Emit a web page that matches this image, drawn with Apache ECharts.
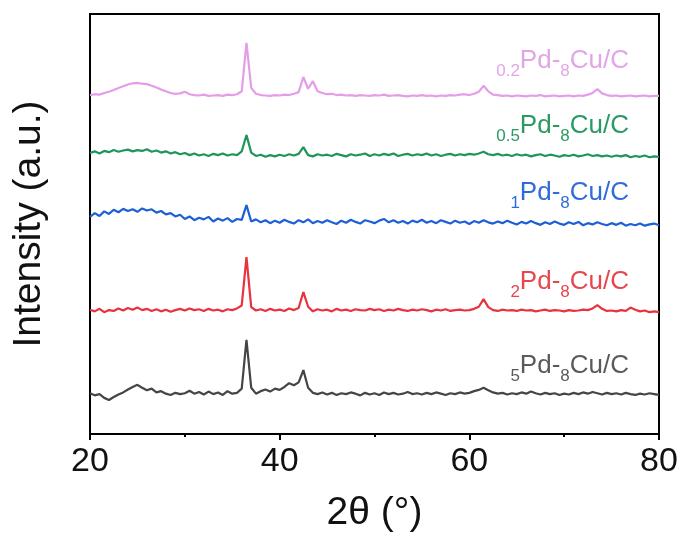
<!DOCTYPE html>
<html>
<head>
<meta charset="utf-8">
<script src="https://cdn.jsdelivr.net/npm/echarts@6/dist/echarts.min.js"></script>
<style>
  html, body { margin: 0; padding: 0; background: #fff; }
  #main { width: 683px; height: 538px; }
</style>
</head>
<body>
<div id="main"></div>
<script>
// 2θ from 20 to 80, step 0.5
const angles = [];
for (let i = 0; i <= 120; i++) angles.push(20 + i * 0.5);

const xTicks = [20, 40, 60, 80];

// stacked (offset) intensities
const pd02 = [
  80.7, 80.9, 80.8, 81.2, 81.5, 81.9, 82.4, 82.8, 83.2, 83.5,
  83.6, 83.4, 83.3, 82.9, 82.5, 82.0, 81.6, 81.2, 81.0, 81.1,
  81.5, 80.9, 80.7, 80.6, 80.8, 80.5, 80.6, 80.7, 80.5, 80.8,
  80.7, 80.9, 81.6, 93.1, 82.4, 81.0, 80.7, 80.6, 80.5, 80.7,
  80.6, 80.8, 80.7, 81.0, 81.4, 85.0, 82.2, 84.0, 81.6, 81.2,
  80.9, 81.0, 80.7, 80.8, 80.6, 80.7, 80.5, 80.7, 80.6, 80.5,
  80.7, 80.6, 80.8, 80.5, 80.6, 80.7, 80.5, 80.4, 80.6, 80.5,
  80.7, 80.5, 80.6, 80.4, 80.6, 80.5, 80.7, 80.6, 80.8, 80.9,
  80.7, 81.0, 81.5, 82.9, 81.6, 80.8, 80.7, 80.5, 80.6, 80.4,
  80.6, 80.5, 80.4, 80.6, 80.5, 80.7, 80.4, 80.5, 80.6, 80.4,
  80.5, 80.6, 80.4, 80.6, 80.5, 80.8, 81.2, 82.1, 81.1, 80.7,
  80.5, 80.6, 80.4, 80.5, 80.6, 80.4, 80.5, 80.6, 80.4, 80.5, 80.5
];
const pd05 = [
  66.9, 67.3, 66.8, 67.4, 67.1, 67.6, 67.2, 67.5, 67.7, 67.3,
  67.6, 67.4, 67.8, 67.2, 67.5, 67.0, 67.3, 66.8, 67.1, 66.6,
  66.9, 66.4, 66.8, 66.3, 66.6, 66.2, 66.7, 66.4, 66.8, 66.3,
  66.6, 66.4, 67.3, 71.2, 67.0, 66.2, 66.5, 66.0, 66.4, 66.1,
  66.5, 66.2, 66.6, 66.3, 66.7, 68.3, 66.4, 66.1, 66.6, 66.3,
  66.5, 66.2, 66.7, 66.4, 66.1, 66.6, 66.3, 66.5, 66.8, 66.2,
  66.6, 66.3, 66.7, 66.4, 66.8, 66.2, 66.5, 66.7, 66.3, 66.6,
  66.4, 66.8, 66.3, 66.6, 66.2, 66.5, 66.7, 66.3, 66.6, 66.4,
  66.7, 66.5, 66.8, 67.2, 66.6, 66.4, 66.7, 66.3, 66.5, 66.2,
  66.6, 66.3, 66.5, 66.1, 66.4, 66.6, 66.2, 66.5, 66.3, 66.0,
  66.4, 66.2, 66.5, 66.1, 66.3, 66.6, 66.2, 66.4, 66.1, 66.3,
  66.0, 66.3, 66.1, 66.4, 65.9, 66.2, 66.0, 66.3, 65.9, 66.1, 66.0
];
const pd1 = [
  51.7, 52.6, 51.9, 53.0, 52.4, 53.4, 52.8, 53.6, 53.1, 53.5,
  52.9, 53.7, 53.2, 53.5, 52.7, 53.1, 52.3, 52.6, 51.8, 52.2,
  51.2, 51.8, 50.9, 51.5, 51.1, 51.7, 50.6, 51.3, 50.8, 51.4,
  50.5, 51.2, 51.0, 54.5, 50.6, 51.1, 50.4, 50.9, 50.2, 50.8,
  50.3, 51.0, 50.5, 50.1, 50.9, 50.4, 51.1, 50.2, 50.7, 50.3,
  50.9, 50.4, 50.0, 50.8, 50.3, 51.0, 50.5, 50.1, 50.9, 50.6,
  50.2, 50.8, 51.2, 50.4, 50.9, 50.3, 50.7, 50.1, 50.8, 50.4,
  51.0, 50.3, 50.7, 50.2, 50.9, 50.5, 50.1, 50.8, 50.3, 50.6,
  50.0, 50.7, 50.3, 50.9, 50.4, 50.1, 50.6, 50.2, 50.8, 50.3,
  49.9, 50.5, 50.1, 50.7, 50.2, 49.8, 50.4, 50.0, 50.6, 50.1,
  49.8, 50.4, 50.0, 50.5, 49.7, 50.2, 49.9, 50.4, 50.0, 49.7,
  50.2, 49.8, 50.3, 49.6, 50.0, 49.7, 50.1, 49.6, 49.9, 50.1, 49.7
];
const pd2 = [
  29.6, 29.2, 29.8, 29.0, 29.5, 29.3, 29.9, 29.4, 30.0, 29.6,
  30.1, 29.5, 29.8, 29.3, 29.7, 29.2, 29.6, 29.1, 29.5, 29.8,
  29.4, 29.9, 29.5, 29.7, 29.3, 29.8, 29.4, 29.6, 29.2, 29.7,
  29.5, 29.9, 30.6, 42.1, 30.2, 29.4, 29.7, 29.3, 29.8, 29.4,
  29.6, 29.3, 29.9, 29.5, 30.0, 33.8, 30.3, 29.2, 29.7, 29.4,
  29.6, 29.2, 29.8, 29.4, 29.6, 29.3, 29.7, 29.5, 29.4, 29.8,
  29.5, 29.7, 29.3, 29.6, 29.4, 29.8, 29.5, 29.3, 29.6, 29.4,
  29.7, 29.5, 29.2, 29.6, 29.4, 29.7, 29.3, 29.5, 29.6, 29.4,
  29.5, 29.8, 30.3, 32.1, 30.2, 29.5, 29.3, 29.6, 29.4, 29.5,
  29.3, 29.6, 29.4, 29.5, 29.2, 29.4, 29.6, 29.3, 29.5, 29.4,
  29.2, 29.5, 29.3, 29.4, 29.6, 29.5, 29.9, 30.7, 29.8, 29.3,
  29.4, 29.2, 29.5, 29.3, 30.1, 29.6, 29.2, 29.4, 29.0, 29.2, 29.0
];
const pd5 = [
  9.7, 9.2, 9.5, 8.6, 8.1, 8.8, 9.4, 9.9, 10.6, 11.2,
  11.7, 11.0, 10.4, 10.8, 9.9, 10.2, 9.6, 9.3, 9.8, 9.5,
  9.7, 10.3, 9.6, 10.0, 9.4, 10.1, 9.5, 9.9, 9.3, 10.2,
  9.6, 9.8, 10.8, 22.4, 11.0, 9.6, 10.2, 10.6, 10.1, 10.8,
  10.5, 11.2, 12.1, 11.6, 12.3, 15.2, 11.0, 9.8, 9.5, 9.9,
  9.4, 9.8, 9.3, 9.7, 9.5, 9.9, 9.6, 9.2, 9.8, 9.4,
  9.7, 9.3, 9.9, 9.5, 9.8, 9.4, 9.6, 10.0, 9.5, 9.7,
  9.4, 9.8, 9.5, 9.9, 9.6, 9.3, 9.7, 9.5, 9.9, 9.6,
  9.8, 10.2, 10.5, 11.0, 10.4, 9.9, 9.6, 9.8, 9.4, 9.7,
  9.5, 9.9, 9.6, 10.1, 9.7, 9.4, 9.8, 9.5, 9.7, 9.3,
  9.6, 9.4, 9.8, 9.5, 9.9, 9.6, 10.0, 9.7, 9.4, 9.8,
  9.5, 9.7, 9.4, 9.8, 9.5, 9.3, 9.6, 9.4, 9.7, 9.5, 9.3
];

// label text: subscript loading, main text
const samples = [
  { sub: '0.2', data: pd02, line: '#e59ce9', text: '#e2a6e7', y: 64 },
  { sub: '0.5', data: pd05, line: '#1e9559', text: '#2a9a62', y: 129 },
  { sub: '1',   data: pd1,  line: '#1c5fd6', text: '#2f6cd8', y: 196 },
  { sub: '2',   data: pd2,  line: '#e8323c', text: '#e8464d', y: 285 },
  { sub: '5',   data: pd5,  line: '#454545', text: '#5a5a5a', y: 369 }
];

const font = '"Liberation Sans", Arial, sans-serif';
const chart = echarts.init(document.getElementById('main'));

chart.setOption({
  animation: false,
  grid: {
    left: 90, right: 24, top: 14, bottom: 104,
    show: true, borderColor: '#000', borderWidth: 2
  },
  xAxis: {
    type: 'value',
    min: 20, max: 80, interval: 20,
    name: '2θ (°)',
    nameLocation: 'middle',
    nameGap: 60,
    nameTextStyle: { fontSize: 39, color: '#111', fontFamily: font },
    axisLine: { show: true, lineStyle: { color: '#000', width: 2 } },
    axisTick: { show: true, length: 6, lineStyle: { color: '#000', width: 2 } },
    minorTick: { show: true, splitNumber: 2, length: 3, lineStyle: { color: '#000', width: 2 } },
    axisLabel: {
      fontSize: 34, color: '#111', fontFamily: font, margin: 11,
      formatter: v => xTicks.includes(v) ? String(v) : ''
    },
    splitLine: { show: false }
  },
  yAxis: {
    type: 'value',
    min: 0, max: 100,
    name: 'Intensity (a.u.)',
    nameLocation: 'middle',
    nameGap: 41,
    nameTextStyle: { fontSize: 39, color: '#111', fontFamily: font },
    axisLine: { show: true, lineStyle: { color: '#000', width: 2 } },
    axisTick: { show: false },
    axisLabel: { show: false },
    splitLine: { show: false }
  },
  series: samples.map(s => ({
    type: 'line',
    data: angles.map((a, i) => [a, s.data[i]]),
    showSymbol: false,
    lineStyle: { color: s.line, width: 2.2 }
  })),
  graphic: samples.map(s => ({
    type: 'text',
    x: 629,
    y: s.y,
    style: {
      text: '{s|' + s.sub + '}{m|Pd-}{s|8}{m|Cu/C}',
      align: 'right',
      verticalAlign: 'middle',
      fill: s.text,
      rich: {
        m: { fontSize: 26, lineHeight: 32, verticalAlign: 'top', fill: s.text, fontFamily: font },
        s: { fontSize: 17, lineHeight: 32, verticalAlign: 'bottom', fill: s.text, fontFamily: font }
      }
    }
  }))
});
</script>
</body>
</html>
